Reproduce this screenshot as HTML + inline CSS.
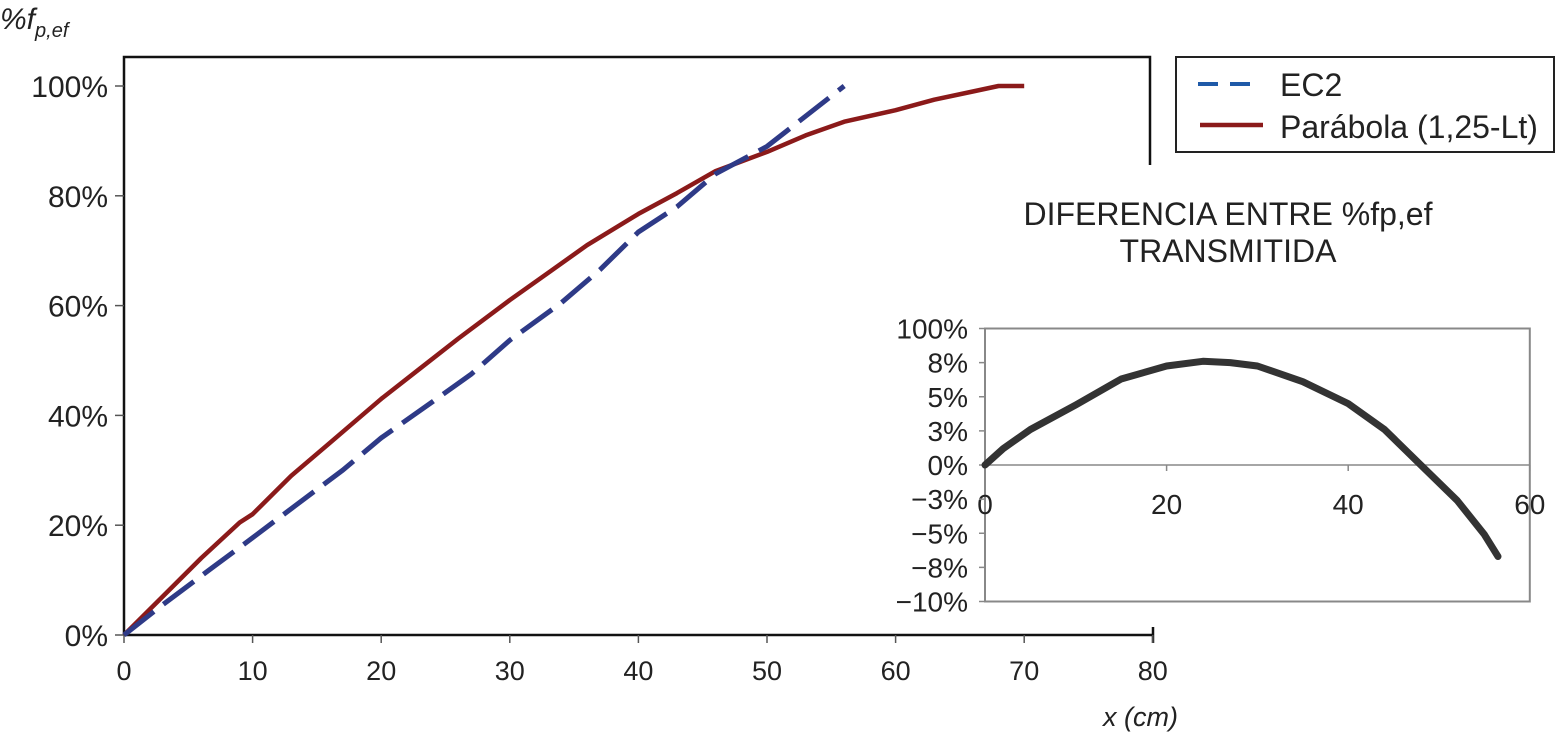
<!DOCTYPE html>
<html><head><meta charset="utf-8"><style>
body{margin:0;background:#fff}
svg{display:block;font-family:"Liberation Sans",sans-serif}
</style></head><body>
<svg id="chart" width="1556" height="735" viewBox="0 0 1556 735" xmlns="http://www.w3.org/2000/svg">
<g id="main"></g>
<g id="inset"></g>
</svg>
<script>
const mainXTicks=[0,10,20,30,40,50,60,70,80];
const mainYTicks=[0,20,40,60,80,100];
const ec2X=[0,3,7,10,13,17,20,24,27,30,34,37,40,43,46,50,53,56];
const ec2Y=[0,5.5,12.5,17.7,23,30,35.9,42.5,47.5,53.7,60.5,66.5,73.4,78,84,89,94.5,100];
const parX=[0,3,6,9,10,13,16,20,23,26,30,33,36,40,43,46,50,53,56,60,63,66,68,70];
const parY=[0,7,14,20.5,22,29,35,43,48.5,54,61,66,71,76.7,80.5,84.5,88,91,93.5,95.6,97.5,99,100,100];
const insetXTicks=[0,20,40,60];
const insetYLabels=["100%","8%","5%","3%","0%","\u22123%","\u22125%","\u22128%","\u221210%"];
const insetYVals=[10,7.5,5,2.5,0,-2.5,-5,-7.5,-10];
const diffX=[0,2,5,10,15,20,24,27,30,35,40,44,48,52,55,56.5];
const diffY=[0,1.2,2.6,4.4,6.3,7.25,7.6,7.5,7.25,6.1,4.5,2.6,0,-2.6,-5.1,-6.7];

const NS="http://www.w3.org/2000/svg";
function mk(parent,tag,attrs,text){const e=document.createElementNS(NS,tag);for(const k in attrs)e.setAttribute(k,attrs[k]);if(text!==undefined)e.textContent=text;parent.appendChild(e);return e;}
const main=document.getElementById('main');
const mx=v=>124+v*12.86, my=v=>635-v*5.49;
let f=mk(main,'path',{d:`M124 635 V57 H1150 V165`,fill:'none',stroke:'#111','stroke-width':2.5});

let xa=mk(main,'path',{d:`M124 635 H1153 M1153 627 V643`,fill:'none',stroke:'#111','stroke-width':2.5});

mainXTicks.forEach(t=>{
  mk(main,'line',{x1:mx(t),x2:mx(t),y1:635,y2:643,stroke:'#555','stroke-width':1.5});
  const l=mk(main,'text',{x:mx(t),y:680,'font-size':27,'text-anchor':'middle',fill:'#222'},t);
  
});
mainYTicks.forEach(t=>{
  mk(main,'line',{x1:115,x2:124,y1:my(t),y2:my(t),stroke:'#555','stroke-width':1.5});
  const l=mk(main,'text',{x:108,y:my(t)+11,'font-size':30,'text-anchor':'end',fill:'#222'},t+'%');
  
});
let yt=mk(main,'text',{x:0,y:29,'font-size':30,'font-style':'italic',fill:'#222'});
yt.innerHTML='%f<tspan font-size="20" dy="8">p,ef</tspan>';

let xt=mk(main,'text',{x:1178,y:726,'font-size':27,'font-style':'italic','text-anchor':'end',fill:'#222'},'x (cm)');

const pts=(X,Y,fx,fy)=>X.map((x,i)=>fx(x).toFixed(1)+','+fy(Y[i]).toFixed(1)).join(' ');
let pr=mk(main,'polyline',{points:pts(parX,parY,mx,my),fill:'none',stroke:'#8b1a1a','stroke-width':4.5,'stroke-linejoin':'round'});

let ec=mk(main,'polyline',{points:pts(ec2X,ec2Y,mx,my),fill:'none',stroke:'#2e3a87','stroke-width':5,'stroke-dasharray':'38 12'});

const lg=mk(main,'g',{});

mk(lg,'rect',{x:1176,y:57,width:378,height:95,fill:'#fff',stroke:'#222','stroke-width':2});
mk(lg,'line',{x1:1198,x2:1260,y1:84,y2:84,stroke:'#1f5aa8','stroke-width':4,'stroke-dasharray':'20 12'});
let t1=mk(lg,'text',{x:1280,y:96,'font-size':32,fill:'#222'},'EC2');

mk(lg,'line',{x1:1200,x2:1263,y1:125,y2:125,stroke:'#8b1a1a','stroke-width':4.5});
let t2=mk(lg,'text',{x:1280,y:138,'font-size':32,fill:'#222'},'Parábola (1,25-Lt)');

const ins=document.getElementById('inset');
const ix=v=>985+v*9.08, iy=v=>465-v*13.65;
let tt=mk(ins,'text',{x:1228,y:225,'font-size':32,'text-anchor':'middle',fill:'#222'},'DIFERENCIA ENTRE %fp,ef');

let tt2=mk(ins,'text',{x:1228,y:262,'font-size':32,'text-anchor':'middle',fill:'#222'},'TRANSMITIDA');

let bx=mk(ins,'rect',{x:985,y:iy(10),width:ix(60)-985,height:iy(-10)-iy(10),fill:'#fff',stroke:'#888','stroke-width':2});

mk(ins,'line',{x1:985,x2:ix(60),y1:iy(0),y2:iy(0),stroke:'#888','stroke-width':1.5});
insetXTicks.forEach(t=>{
  mk(ins,'line',{x1:ix(t),x2:ix(t),y1:iy(0),y2:iy(0)+6,stroke:'#888','stroke-width':1.5});
  const l=mk(ins,'text',{x:ix(t),y:514,'font-size':28,'text-anchor':'middle',fill:'#222'},t);
  
});
insetYVals.forEach((v,i)=>{
  mk(ins,'line',{x1:979,x2:985,y1:iy(v),y2:iy(v),stroke:'#888','stroke-width':1.5});
  const l=mk(ins,'text',{x:968,y:iy(v)+10,'font-size':28,'text-anchor':'end',fill:'#222'},insetYLabels[i]);
  
});
let dl=mk(ins,'polyline',{points:pts(diffX,diffY,ix,iy),fill:'none',stroke:'#333','stroke-width':7,'stroke-linejoin':'round','stroke-linecap':'round'});

</script>
</body></html>
